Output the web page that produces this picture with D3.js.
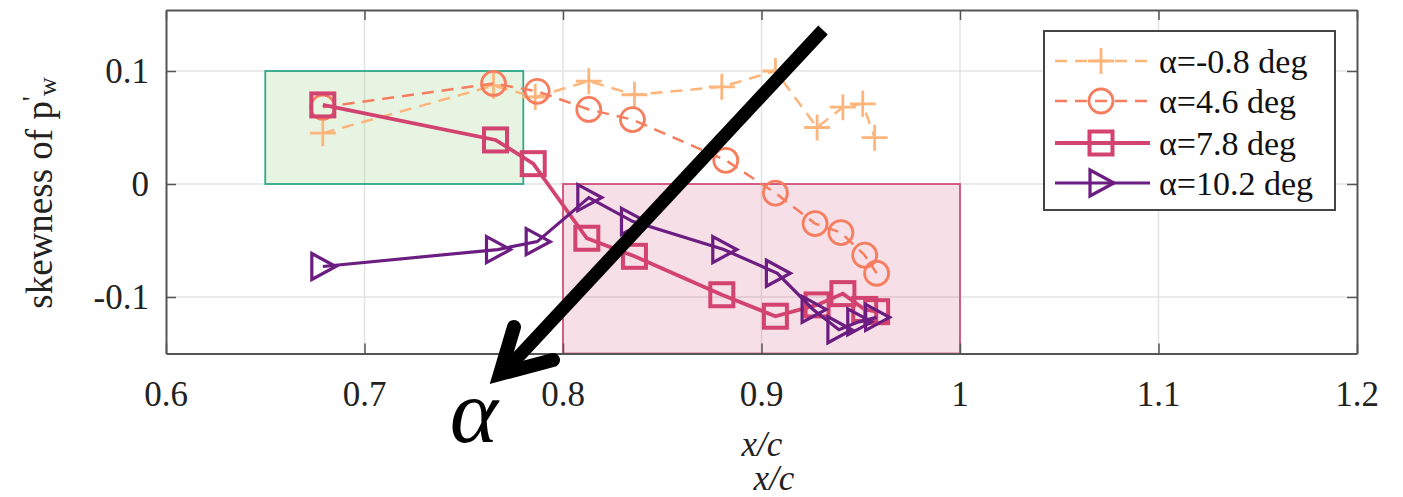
<!DOCTYPE html>
<html><head><meta charset="utf-8">
<script src="https://cdn.jsdelivr.net/npm/d3@7/dist/d3.min.js"></script>
<style>
html,body{margin:0;padding:0;background:#fff;}
svg{display:block;}
text{font-family:"Liberation Serif","Times New Roman",serif;}
</style></head>
<body>
<svg id="chart" width="1403" height="497"></svg>
<script>
// ---- data ----
const seriesNames = ["α=-0.8 deg", "α=4.6 deg", "α=7.8 deg", "α=10.2 deg"];
const x_m08 = [0.679, 0.765, 0.786, 0.813, 0.836, 0.880, 0.907, 0.928, 0.941, 0.951, 0.957];
const y_m08 = [0.045, 0.087, 0.077, 0.091, 0.079, 0.086, 0.100, 0.050, 0.068, 0.071, 0.041];
const x_46 = [0.679, 0.765, 0.787, 0.813, 0.835, 0.882, 0.907, 0.927, 0.940, 0.952, 0.958];
const y_46 = [0.068, 0.089, 0.082, 0.066, 0.057, 0.021, -0.008, -0.035, -0.043, -0.063, -0.079];
const x_78 = [0.679, 0.766, 0.785, 0.812, 0.836, 0.880, 0.907, 0.928, 0.941, 0.952, 0.958];
const y_78 = [0.070, 0.039, 0.018, -0.048, -0.064, -0.098, -0.117, -0.107, -0.097, -0.111, -0.113];
const x_102 = [0.679, 0.767, 0.787, 0.813, 0.835, 0.881, 0.908, 0.926, 0.939, 0.949, 0.958];
const y_102 = [-0.073, -0.058, -0.051, -0.012, -0.033, -0.058, -0.079, -0.111, -0.129, -0.122, -0.118];
const xTicks = [0.6, 0.7, 0.8, 0.9, 1.0, 1.1, 1.2];
const xTickLabels = ["0.6", "0.7", "0.8", "0.9", "1", "1.1", "1.2"];
const yTicks = [-0.1, 0, 0.1];
const yTickLabels = ["-0.1", "0", "0.1"];
const greenBox = [0.65, 0.78, 0, 0.1];   // x0, x1, y0, y1
const pinkBox = [0.8, 1.0, -0.15, 0];

// ---- styling ----
const colors = ["#FDB57C", "#F67D5E", "#D3436F", "#6B1D81"];
const dashes = ["12,8", "12,8", null, null];
const widths = [2.5, 2.5, 3.8, 3.2];
const markers = ["plus", "circle", "square", "triangle"];

const svg = d3.select("#chart");
const X0 = 166, X1 = 1357, Y0 = 10, Y1 = 353.5;
const x = d3.scaleLinear().domain([0.6, 1.2]).range([X0, X1]);
const y = d3.scaleLinear().domain([-0.15, 0.154]).range([Y1, Y0]);

// grid
const g = svg.append("g");
g.selectAll(".gx").data(xTicks.slice(1, -1)).join("line")
  .attr("x1", d => x(d)).attr("x2", d => x(d)).attr("y1", Y0).attr("y2", Y1)
  .attr("stroke", "#e3e3e3").attr("stroke-width", 1.5);
g.selectAll(".gy").data(yTicks).join("line")
  .attr("x1", X0).attr("x2", X1).attr("y1", d => y(d)).attr("y2", d => y(d))
  .attr("stroke", "#e3e3e3").attr("stroke-width", 1.5);

// highlight boxes
svg.append("rect")
  .attr("x", x(greenBox[0])).attr("y", y(greenBox[3]))
  .attr("width", x(greenBox[1]) - x(greenBox[0])).attr("height", y(greenBox[2]) - y(greenBox[3]))
  .attr("fill", "rgb(170,215,150)").attr("fill-opacity", 0.28)
  .attr("stroke", "#2FA88A").attr("stroke-width", 1.8);
svg.append("rect")
  .attr("x", x(pinkBox[0])).attr("y", y(pinkBox[3]))
  .attr("width", x(pinkBox[1]) - x(pinkBox[0])).attr("height", y(pinkBox[2]) - y(pinkBox[3]))
  .attr("fill", "rgb(208,80,122)").attr("fill-opacity", 0.18)
  .attr("stroke", "#D0507A").attr("stroke-width", 1.8);

// axes (box with inward ticks)
function styleAxis(sel) {
  sel.select(".domain").attr("stroke", "#555").attr("stroke-width", 2);
  sel.selectAll(".tick line").attr("stroke", "#555").attr("stroke-width", 1.5);
  sel.selectAll("text").remove();
}
svg.append("g").attr("transform", `translate(0,${Y1})`)
  .call(d3.axisBottom(x).tickValues(xTicks).tickSizeInner(-10).tickSizeOuter(0)).call(styleAxis);
svg.append("g").attr("transform", `translate(0,${Y0})`)
  .call(d3.axisTop(x).tickValues(xTicks).tickSizeInner(-10).tickSizeOuter(0)).call(styleAxis);
svg.append("g").attr("transform", `translate(${X0},0)`)
  .call(d3.axisLeft(y).tickValues(yTicks).tickSizeInner(-10).tickSizeOuter(0)).call(styleAxis);
svg.append("g").attr("transform", `translate(${X1},0)`)
  .call(d3.axisRight(y).tickValues(yTicks).tickSizeInner(-10).tickSizeOuter(0)).call(styleAxis);

// tick labels
svg.selectAll(".xl").data(xTicks).join("text")
  .attr("x", d => x(d)).attr("y", 406).attr("text-anchor", "middle")
  .attr("font-size", 35).attr("fill", "#222").text((d, i) => xTickLabels[i]);
svg.selectAll(".yl").data(yTicks).join("text")
  .attr("x", 149).attr("y", d => y(d) + 12).attr("text-anchor", "end")
  .attr("font-size", 35).attr("fill", "#222").text((d, i) => yTickLabels[i]);

// y label
const yl = svg.append("text").attr("transform", "translate(52,193) rotate(-90)")
  .attr("text-anchor", "middle").attr("font-size", 37).attr("fill", "#222");
yl.append("tspan").text("skewness of p");
yl.append("tspan").attr("dy", -11).attr("font-size", 28).text("'");
yl.append("tspan").attr("dy", 15).attr("font-size", 26).text("w");

// series
const data = [[x_m08, y_m08], [x_46, y_46], [x_78, y_78], [x_102, y_102]];
function drawMarker(sel, type, color, cx, cy) {
  const gm = sel.append("g").attr("transform", `translate(${cx},${cy})`)
    .attr("fill", "none").attr("stroke", color);
  if (type === "plus") {
    gm.append("path").attr("d", "M-13,0H13M0,-13V13").attr("stroke-width", 2.8);
  } else if (type === "circle") {
    gm.append("circle").attr("r", 12).attr("stroke-width", 2.8);
  } else if (type === "square") {
    gm.append("rect").attr("x", -11.5).attr("y", -11.5).attr("width", 23).attr("height", 23).attr("stroke-width", 4);
  } else {
    gm.append("path").attr("d", "M-11,-13L13,0L-11,13Z").attr("stroke-width", 3.2).attr("stroke-linejoin", "miter");
  }
}
const line = d3.line().x(d => x(d[0])).y(d => y(d[1]));
data.forEach((s, k) => {
  const pts = s[0].map((v, i) => [v, s[1][i]]);
  const gs = svg.append("g");
  gs.append("path").datum(pts).attr("d", line).attr("fill", "none")
    .attr("stroke", colors[k]).attr("stroke-width", widths[k])
    .attr("stroke-dasharray", dashes[k]);
  pts.forEach(p => drawMarker(gs, markers[k], colors[k], x(p[0]), y(p[1])));
});

// legend
const lg = svg.append("g");
lg.append("rect").attr("x", 1044).attr("y", 31).attr("width", 291).attr("height", 179)
  .attr("fill", "#fff").attr("stroke", "#444").attr("stroke-width", 2);
const legY = [61, 101, 143, 183];
seriesNames.forEach((nm, k) => {
  lg.append("line").attr("x1", 1055).attr("x2", 1150).attr("y1", legY[k]).attr("y2", legY[k])
    .attr("stroke", colors[k]).attr("stroke-width", widths[k]).attr("stroke-dasharray", dashes[k]);
  drawMarker(lg, markers[k], colors[k], 1101, legY[k]);
  lg.append("text").attr("x", 1159).attr("y", legY[k] + 12).attr("font-size", 34)
    .attr("fill", "#111").text(nm);
});

// x labels (the reference shows the axis title twice)
svg.append("text").attr("x", 762).attr("y", 456).attr("text-anchor", "middle")
  .attr("font-size", 35).attr("font-style", "italic").attr("fill", "#222").text("x/c");
svg.append("text").attr("x", 774).attr("y", 490).attr("text-anchor", "middle")
  .attr("font-size", 35).attr("font-style", "italic").attr("fill", "#222").text("x/c");

// annotation arrow
svg.append("line").attr("x1", 823).attr("y1", 30).attr("x2", 506).attr("y2", 370)
  .attr("stroke", "#000").attr("stroke-width", 13);
svg.append("path").attr("d", "M514,327L500,374L553,360")
  .attr("fill", "none").attr("stroke", "#000").attr("stroke-width", 14)
  .attr("stroke-linecap", "round").attr("stroke-linejoin", "miter");
svg.append("text").attr("x", 474).attr("y", 442).attr("text-anchor", "middle")
  .attr("font-size", 92).attr("font-style", "italic").attr("fill", "#000").text("α");
</script>
</body></html>
